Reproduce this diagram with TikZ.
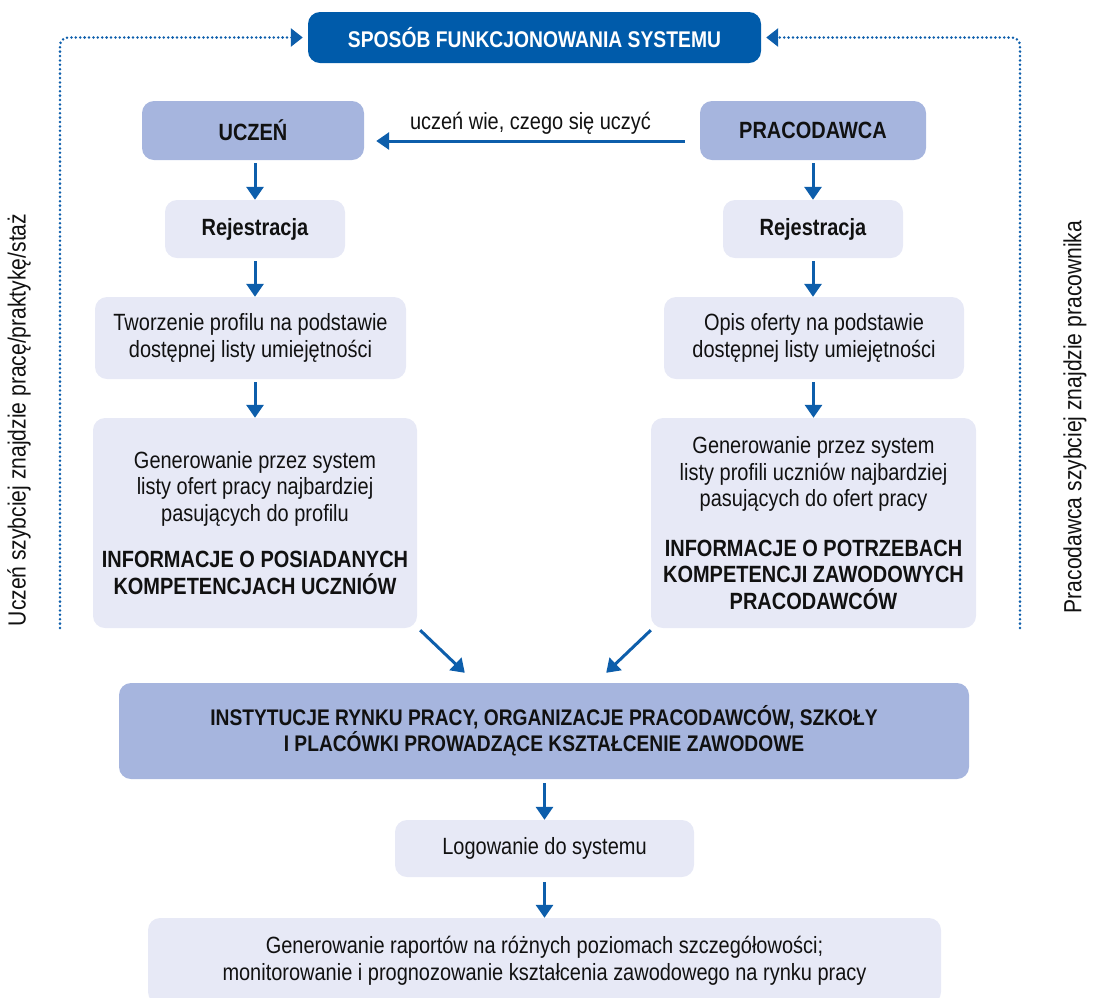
\documentclass[tikz,border=0pt]{standalone}
\usepackage{fontspec}
\setmainfont{Liberation Sans}[FakeStretch=0.85]
\usetikzlibrary{arrows.meta,calc}
\definecolor{dblue}{HTML}{005BAA}
\definecolor{mblue}{HTML}{A6B5DE}
\definecolor{lblue}{HTML}{E7E9F6}
\definecolor{ablue}{HTML}{0D5EAB}
\definecolor{txt}{HTML}{111111}
\begin{document}
\begin{tikzpicture}[x=1pt,y=-1pt,
  box/.style={rounded corners=12pt, inner sep=0pt, align=center, text=txt,
              font=\fontsize{23.5}{26.5}\selectfont},
  midbox/.style={box, fill=mblue},
  litebox/.style={box, fill=lblue},
  titlebox/.style={box, fill=dblue, text=white, font=\fontsize{22.7}{26}\selectfont},
  arr/.style={draw=ablue, line width=3pt, -{Triangle[length=13pt,width=17pt]}},
  dotarr/.style={draw=ablue, line width=2.8pt, line cap=round,
                 dash pattern=on 0pt off 4.4pt, rounded corners=8pt,
                 -{Triangle[length=12pt,width=18pt]}},
  sidetext/.style={rotate=90, text=txt, font=\fontsize{24.8}{28}\selectfont},
]
\clip (0,0) rectangle (1093,997);

% title
\node[titlebox, minimum width=453pt, minimum height=51pt] (title) at (534.5,37.5)
  {\textbf{SPOSÓB FUNKCJONOWANIA SYSTEMU}};

% left column
\node[midbox, minimum width=222pt, minimum height=59pt] (uczen) at (253,130.5) {\textbf{UCZEŃ}};
\node[litebox, minimum width=180pt, minimum height=58pt] (rejL) at (255,229) {\textbf{Rejestracja}};
\node[litebox, minimum width=311pt, minimum height=82pt] (twoL) at (250.5,338)
  {Tworzenie profilu na podstawie\\dostępnej listy umiejętności};
\node[litebox, minimum width=324pt, minimum height=210pt] (genL) at (255,523)
  {Generowanie przez system\\listy ofert pracy najbardziej\\pasujących do profilu\\[20pt]
   \textbf{INFORMACJE O POSIADANYCH}\\\textbf{KOMPETENCJACH UCZNIÓW}};

% right column
\node[midbox, minimum width=226pt, minimum height=59pt] (prac) at (813,130.5) {\textbf{PRACODAWCA}};
\node[litebox, minimum width=180pt, minimum height=58pt] (rejR) at (813,229) {\textbf{Rejestracja}};
\node[litebox, minimum width=300pt, minimum height=82pt] (opisR) at (814,338)
  {Opis oferty na podstawie\\dostępnej listy umiejętności};
\node[litebox, minimum width=325pt, minimum height=210pt] (genR) at (813.5,523)
  {Generowanie przez system\\listy profili uczniów najbardziej\\pasujących do ofert pracy\\[23pt]
   \textbf{INFORMACJE O POTRZEBACH}\\\textbf{KOMPETENCJI ZAWODOWYCH}\\\textbf{PRACODAWCÓW}};

% bottom
\node[midbox, minimum width=850pt, minimum height=96pt, font=\fontsize{22.6}{26}\selectfont] (inst) at (544,731)
  {\textbf{INSTYTUCJE RYNKU PRACY, ORGANIZACJE PRACODAWCÓW, SZKOŁY}\\
   \textbf{I PLACÓWKI PROWADZĄCE KSZTAŁCENIE ZAWODOWE}};
\node[litebox, minimum width=299pt, minimum height=57pt] (log) at (544.5,848.5) {Logowanie do systemu};
\node[litebox, minimum width=793pt, minimum height=86pt] (last) at (544.5,961)
  {Generowanie raportów na różnych poziomach szczegółowości;\\
   monitorowanie i prognozowanie kształcenia zawodowego na rynku pracy};

% side texts
\node[sidetext] (lt) at (19,420) {Uczeń szybciej znajdzie pracę/praktykę/staż};
\node[sidetext] (rt) at (1075,417) {Pracodawca szybciej znajdzie pracownika};

% dotted loops
\coordinate (dl) at (60,628);
\coordinate (dr) at (1020,628);
\draw[dotarr] (dl) -- (dl |- title.west) -- ([xshift=-5pt]title.west);
\draw[dotarr] (dr) -- (dr |- title.east) -- ([xshift=5pt]title.east);

% vertical arrows left
\draw[arr] ([yshift=-3pt]uczen.south -| rejL.north) -- (rejL.north);
\draw[arr] ([yshift=-3pt]rejL.south) -- (rejL.south |- twoL.north);
\draw[arr] ([yshift=-3pt]twoL.south -| genL.north) -- (genL.north);
% vertical arrows right
\draw[arr] ([yshift=-3pt]prac.south -| rejR.north) -- (rejR.north);
\draw[arr] ([yshift=-3pt]rejR.south) -- (rejR.south |- opisR.north);
\draw[arr] ([yshift=-3pt]opisR.south -| genR.north) -- (genR.north);

% horizontal arrow
\draw[arr] ([xshift=-15pt,yshift=-10.5pt]prac.west) -- ([xshift=12pt,yshift=-10.5pt]uczen.east)
  node[midway, yshift=18pt, text=txt, font=\fontsize{23.5}{26.5}\selectfont] (lbl) {uczeń wie, czego się uczyć};

% diagonal arrows
\draw[arr] ([xshift=3pt,yshift=-2pt]genL.south east) -- ([xshift=346pt,yshift=10pt]inst.north west);
\draw[arr] ([yshift=-2pt]genR.south west) -- ([xshift=-363pt,yshift=10pt]inst.north east);

% bottom arrows
\draw[arr] ([yshift=-4pt]inst.south -| log.north) -- (log.north);
\draw[arr] ([yshift=-5pt]log.south -| last.north) -- (last.north);
\end{tikzpicture}
\end{document}
